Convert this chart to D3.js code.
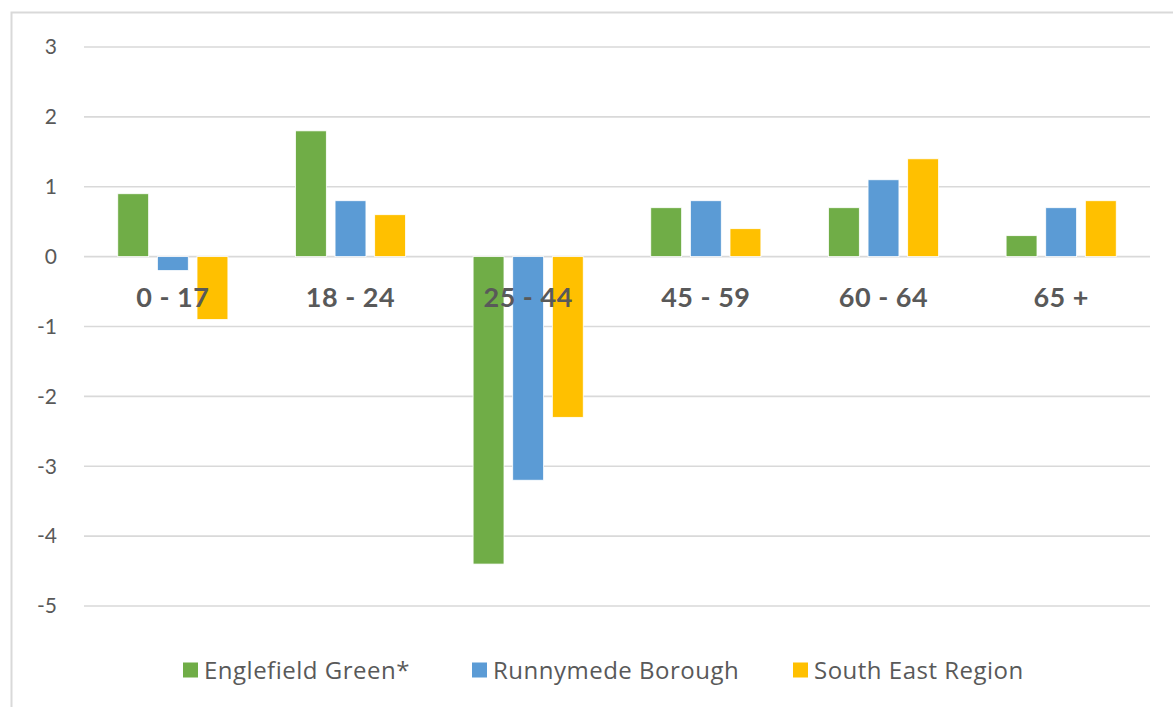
<!DOCTYPE html>
<html>
<head>
<meta charset="utf-8">
<script src="https://cdn.jsdelivr.net/npm/d3@7"></script>
<style>
  body { margin: 0; background: #fff; }
  #chart svg { display: block; }
</style>
</head>
<body>
<div id="chart"></div>
<script>
// Data
const categories = ["0 - 17", "18 - 24", "25 - 44", "45 - 59", "60 - 64", "65 +"];
const seriesNames = ["Englefield Green*", "Runnymede Borough", "South East Region"];
const englefield = [0.9, 1.8, -4.4, 0.7, 0.7, 0.3];
const runnymede = [-0.2, 0.8, -3.2, 0.8, 1.1, 0.7];
const southEast = [-0.9, 0.6, -2.3, 0.4, 1.4, 0.8];
const yTicks = [3, 2, 1, 0, -1, -2, -3, -4, -5];

const seriesValues = [englefield, runnymede, southEast];
const colors = ["#70ad47", "#5b9bd5", "#ffc000"];

const width = 1173;
const height = 707;
const font = "Lato, 'Open Sans', sans-serif";
const legendFont = "'Open Sans', Lato, sans-serif";

const svg = d3.select("#chart")
    .append("svg")
    .attr("width", width)
    .attr("height", height);

// Outer frame (left and top edges visible)
svg.append("path")
    .attr("d", `M11.5,${height} V12.5 H${width}`)
    .attr("fill", "none")
    .attr("stroke", "#d9d9d9")
    .attr("stroke-width", 2);

const x0 = d3.scaleBand()
    .domain(categories)
    .range([84, 1150]);

const x1 = d3.scaleBand()
    .domain(seriesNames)
    .range([x0.bandwidth() * 0.19, x0.bandwidth() * 0.81])
    .paddingInner(0.22);

const y = d3.scaleLinear()
    .domain([-5, 3])
    .range([606, 47]);

// Gridlines
svg.append("g")
    .selectAll("line")
    .data(yTicks)
    .enter()
    .append("line")
    .attr("x1", 84)
    .attr("x2", 1150)
    .attr("y1", d => y(d))
    .attr("y2", d => y(d))
    .attr("stroke", "#d9d9d9")
    .attr("stroke-width", 1.6);

// Y tick labels
svg.append("g")
    .selectAll("text")
    .data(yTicks)
    .enter()
    .append("text")
    .attr("x", 57)
    .attr("y", d => y(d))
    .attr("dy", "0.35em")
    .attr("text-anchor", "end")
    .style("font-family", font)
    .style("font-size", "21px")
    .style("fill", "#595959")
    .text(d => d);

// Bars
const rows = categories.map((c, i) => ({
    category: c,
    values: seriesNames.map((s, j) => ({ series: s, value: seriesValues[j][i], color: colors[j] }))
}));

const groups = svg.append("g")
    .selectAll("g")
    .data(rows)
    .enter()
    .append("g")
    .attr("transform", d => `translate(${x0(d.category)},0)`);

groups.selectAll("rect")
    .data(d => d.values)
    .enter()
    .append("rect")
    .attr("x", d => x1(d.series))
    .attr("width", x1.bandwidth())
    .attr("y", d => y(Math.max(0, d.value)))
    .attr("height", d => Math.abs(y(d.value) - y(0)))
    .attr("fill", d => d.color)
    .attr("stroke", "#fff")
    .attr("stroke-width", 0.8);

// Category labels
svg.append("g")
    .selectAll("text")
    .data(categories)
    .enter()
    .append("text")
    .attr("x", d => x0(d) + x0.bandwidth() / 2)
    .attr("y", 307)
    .attr("text-anchor", "middle")
    .style("font-family", font)
    .style("font-size", "27px")
    .style("letter-spacing", "0.5px")
    .style("font-weight", "bold")
    .style("fill", "#595959")
    .text(d => d);

// Legend
const legendX = [183, 472, 793];
const legend = svg.append("g")
    .selectAll("g")
    .data(seriesNames)
    .enter()
    .append("g")
    .attr("transform", (d, i) => `translate(${legendX[i]},670)`);

legend.append("rect")
    .attr("x", 0)
    .attr("y", -7.5)
    .attr("width", 15)
    .attr("height", 15)
    .attr("fill", (d, i) => colors[i]);

legend.append("text")
    .attr("x", 21)
    .attr("y", 0)
    .attr("dy", "0.36em")
    .style("font-family", legendFont)
    .style("font-size", "24px")
    .style("letter-spacing", "0.5px")
    .style("fill", "#595959")
    .text(d => d);
</script>
</body>
</html>
